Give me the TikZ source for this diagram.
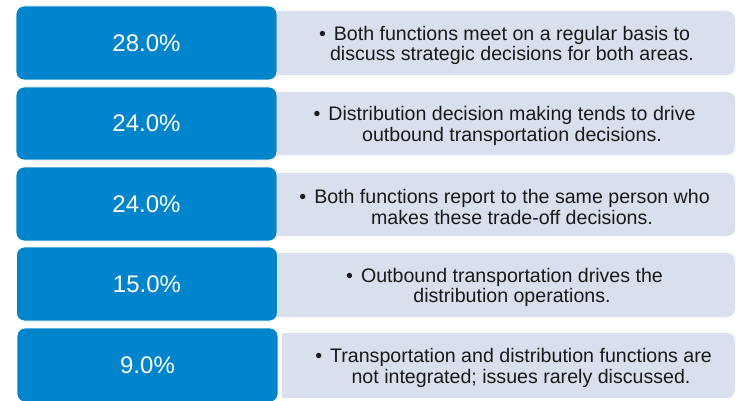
\documentclass[tikz,border=0pt]{standalone}
\usepackage{fontspec}
\setmainfont{Liberation Sans}
\usepackage{xcolor}
\usetikzlibrary{positioning}

\definecolor{pctblue}{RGB}{0,132,203}
\definecolor{notegray}{RGB}{217,223,236}
\newcommand{\bul}{\llap{\textbullet\hspace{8pt}}}

\tikzset{
    pctbox/.style={fill=pctblue,draw=white,line width=0.8pt,rounded corners=8pt,text=white,
        font=\fontsize{24}{28}\selectfont,minimum width=261pt,inner sep=0pt},
    notetext/.style={align=center,text=black!90,font=\fontsize{19.6}{20.5}\selectfont,inner sep=0pt}
}

\begin{document}
\begin{tikzpicture}[x=1pt,y=-1pt]
            \clip (0,0) rectangle (736,401);

            \foreach \t/\b/\l in {11/75/262, 92/155/262, 173/236/262, 253/317/262, 333/398/282}{
                \fill[notegray,rounded corners=8pt] (\l,\t) rectangle (735,\b);
                \fill[notegray] (\l,\t) rectangle (700,\b);
            }

            \node[pctbox,minimum height=74pt] (pct1) at (146.5,43) {28.0\%};
            \node[pctbox,minimum height=73pt] (pct2) at (146.5,123.5) {24.0\%};
            \node[pctbox,minimum height=74pt] (pct3) at (146.5,204) {24.0\%};
            \node[pctbox,minimum height=74pt] (pct4) at (147,284) {15.0\%};
            \node[pctbox,minimum height=74pt] (pct5) at (147.5,365) {9.0\%};

            \node[notetext] (txt1) at (512,45.5) {\bul Both functions meet on a regular basis to\\discuss strategic decisions for both areas.};
            \node[notetext] (txt2) at (512,126) {\bul Distribution decision making tends to drive\\outbound transportation decisions.};
            \node[notetext] (txt3) at (512,207) {\bul Both functions report to the same person who\\makes these trade-off decisions.};
            \node[notetext] (txt4) at (512,287.5) {\bul Outbound transportation drives the\\distribution operations.};
            \node[notetext] (txt5) at (521,368) {\bul Transportation and distribution functions are\\not integrated; issues rarely discussed.};
        \end{tikzpicture}
\end{document}
